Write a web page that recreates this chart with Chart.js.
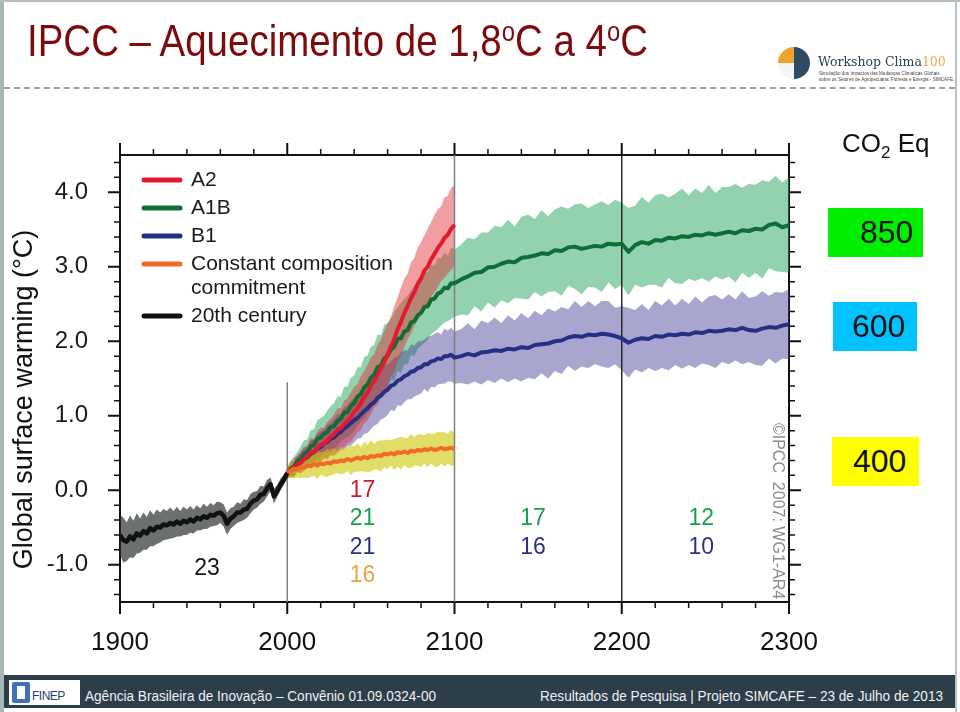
<!DOCTYPE html>
<html lang="pt">
<head>
<meta charset="utf-8">
<title>IPCC – Aquecimento de 1,8oC a 4oC</title>
<script src="https://cdn.jsdelivr.net/npm/chart.js@4.4.1/dist/chart.umd.min.js"></script>
<style>
  html, body { margin:0; padding:0; background:#fff; }
  #slide { position:relative; width:960px; height:712px; overflow:hidden; background:#fff; font-family:"Liberation Sans", Arial, sans-serif; }
  #chart { position:absolute; left:0; top:0; }
  .abs { position:absolute; white-space:nowrap; }
  #frameL { left:0; top:0; width:4px; height:712px; background:#a7b7b7; }
  #frameT { left:0; top:0; width:960px; height:2px; background:#b3bfbf; }
  #frameR { left:955px; top:0; width:2px; height:712px; background:#b8c2c2; }
  #title { left:27px; top:19px; font-size:45px; line-height:44px; color:#7d0b0b; transform-origin:0 50%; }
  #title sup { font-size:0.62em; vertical-align:0.55em; line-height:0; }
  #dash { left:4px; top:87px; width:951px; height:0; border-top:2px dashed #9aa3a3; }
  #footer { left:4px; top:675px; width:951px; height:33px; background:#2d3e4b; }
  .foot { top:688px; font-size:14px; line-height:16px; color:#eef0f2; transform-origin:0 50%; }
  #finepBox { left:9px; top:680px; width:71px; height:25px; background:#fff; }
  #finepIcon { left:12px; top:682px; width:18px; height:21px; background:#3f72b8; border-radius:2px; }
  #finepIcon2 { left:17px; top:686px; width:8px; height:13px; background:#fff; }
  #finepTxt { left:32px; top:690px; font-size:12px; line-height:12px; color:#1f3f7a; letter-spacing:-0.5px; }
  #logoIcon { left:778px; top:47px; width:32px; height:32px; border-radius:50%;
     background:conic-gradient(#2f4b63 0 90deg, #2f4b63 90deg 180deg, #f4f4f4 180deg 270deg, #f2a22c 270deg 360deg); }
  #logoTxt { left:818px; top:55px; font-family:"DejaVu Serif","Liberation Serif",serif; font-size:12.5px; line-height:14px; color:#2c4457; }
  #logoTxt span { color:#f2a94a; }
  .logoSub { left:819px; font-size:4.6px; line-height:5px; color:#444; }
  #co2 { left:842px; top:128px; font-size:26px; line-height:30px; color:#111; }
  #co2 sub { font-size:17px; vertical-align:-6px; line-height:0; }
  .box { font-size:32px; line-height:49px; color:#111; height:49px; }
</style>
</head>
<body>
<div id="slide">
  <canvas id="chart" width="960" height="712"></canvas>
  <div class="abs" id="frameL"></div>
  <div class="abs" id="frameT"></div>
  <div class="abs" id="frameR"></div>
  <div class="abs" id="title">IPCC – Aquecimento de 1,8<sup>o</sup>C a 4<sup>o</sup>C</div>
  <div class="abs" id="dash"></div>
  <div class="abs" id="logoIcon"></div>
  <div class="abs" id="logoTxt">Workshop Clima<span>100</span></div>
  <div class="abs logoSub" style="top:71px">Simulação dos Impactos das Mudanças Climáticas Globais</div>
  <div class="abs logoSub" style="top:77px">sobre os Setores de Agropecuária, Floresta e Energia - SIMCAFE.</div>

  <div class="abs" id="co2">CO<sub>2</sub> Eq</div>
  <div class="abs box" style="left:828px;top:208px;width:95px;background:#00ee00;"><span style="position:absolute;left:32px">850</span></div>
  <div class="abs box" style="left:833px;top:302px;width:84px;background:#00c2ff;"><span style="position:absolute;left:19px">600</span></div>
  <div class="abs box" style="left:832px;top:437px;width:87px;background:#ffff00;"><span style="position:absolute;left:21px">400</span></div>

  <div class="abs" id="footer"></div>
  <div class="abs" id="finepBox"></div>
  <div class="abs" id="finepIcon"></div>
  <div class="abs" id="finepIcon2"></div>
  <div class="abs" id="finepTxt">FINEP</div>
  <div class="abs foot" id="footL" style="left:85px">Agência Brasileira de Inovação – Convênio 01.09.0324-00</div>
  <div class="abs foot" id="footR" style="left:540px">Resultados de Pesquisa | Projeto SIMCAFE – 23 de Julho de 2013</div>
</div>

<script>
// ---------------- DATA ----------------
const range = (a, b, s) => { const r = []; for (let v = a; v <= b + 1e-9; v += s) r.push(v); return r; };

const years20th = range(1900, 2000, 2);      // 20th century
const yearsScen = range(2000, 2100, 2);      // 21st century scenarios
const yearsExt  = range(2104, 2300, 4);      // extension to 2300

const xTickValues = [1900,1920,1940,1960,1980,2000,2020,2040,2060,2080,2100,2120,2140,2160,2180,2200,2220,2240,2260,2280,2300];
const yTickValues = [-1.4,-1.2,-1.0,-0.8,-0.6,-0.4,-0.2,0,0.2,0.4,0.6,0.8,1.0,1.2,1.4,1.6,1.8,2.0,2.2,2.4,2.6,2.8,3.0,3.2,3.4,3.6,3.8,4.0,4.2,4.4];

const seriesNames = ['20th century', 'Constant composition\ncommitment', 'A2', 'A1B', 'B1'];

const temp20th = [-0.60,-0.67,-0.69,-0.62,-0.66,-0.58,-0.61,-0.55,-0.58,-0.51,
                  -0.54,-0.49,-0.50,-0.46,-0.47,-0.44,-0.46,-0.42,-0.45,-0.41,
                  -0.43,-0.39,-0.42,-0.37,-0.39,-0.35,-0.37,-0.33,-0.34,-0.31,
                  -0.30,-0.34,-0.45,-0.38,-0.35,-0.30,-0.30,-0.26,-0.25,-0.18,
                  -0.14,-0.12,-0.06,-0.05,0.03,0.08,-0.08,-0.01,0.08,0.14,0.23];
const spread20th = [0.27,0.30,0.26,0.28,0.25,0.27,0.23,0.25,0.22,0.24,
                    0.21,0.23,0.20,0.21,0.19,0.21,0.18,0.20,0.17,0.19,
                    0.17,0.18,0.16,0.17,0.15,0.17,0.15,0.16,0.14,0.16,
                    0.14,0.15,0.15,0.14,0.13,0.14,0.12,0.14,0.12,0.13,
                    0.12,0.11,0.12,0.10,0.11,0.09,0.10,0.08,0.08,0.07,0.05];

const tempA2 = [0.23,0.28,0.29,0.35,0.37,0.42,0.45,0.51,0.51,0.57,
                0.61,0.63,0.67,0.72,0.75,0.81,0.83,0.89,0.93,0.98,
                1.05,1.10,1.17,1.25,1.31,1.40,1.47,1.55,1.63,1.72,
                1.82,1.93,2.03,2.16,2.26,2.38,2.47,2.58,2.66,2.77,
                2.84,2.95,3.00,3.10,3.17,3.25,3.31,3.39,3.43,3.51,3.56];
const spreadA2 = [0.07,0.10,0.12,0.11,0.15,0.16,0.15,0.19,0.18,0.22,
                  0.23,0.21,0.25,0.24,0.27,0.29,0.27,0.31,0.30,0.33,
                  0.34,0.32,0.36,0.35,0.37,0.38,0.36,0.40,0.39,0.42,
                  0.42,0.40,0.44,0.43,0.46,0.46,0.44,0.48,0.46,0.49,
                  0.49,0.47,0.51,0.50,0.52,0.52,0.50,0.54,0.52,0.55,0.54];

const tempA1B = [0.23,0.29,0.32,0.39,0.42,0.49,0.51,0.59,0.61,0.69,
                 0.71,0.76,0.78,0.85,0.86,0.93,0.96,1.04,1.05,1.13,
                 1.17,1.26,1.29,1.38,1.42,1.51,1.55,1.65,1.67,1.77,
                 1.81,1.89,1.93,2.03,2.04,2.13,2.15,2.25,2.27,2.35,
                 2.38,2.46,2.47,2.56,2.57,2.64,2.66,2.72,2.71,2.78,2.78];
const spreadA1B = [0.07,0.11,0.13,0.12,0.17,0.18,0.17,0.22,0.21,0.25,
                   0.26,0.24,0.29,0.28,0.31,0.33,0.30,0.35,0.34,0.38,
                   0.37,0.39,0.36,0.41,0.39,0.42,0.40,0.44,0.41,0.45,
                   0.43,0.41,0.46,0.43,0.47,0.44,0.46,0.43,0.47,0.45,
                   0.44,0.48,0.45,0.47,0.44,0.48,0.45,0.47,0.44,0.48,0.45];
const tempA1BExt = [2.83,2.87,2.92,2.93,2.99,3.00,3.04,3.07,3.06,3.12,
                    3.13,3.15,3.18,3.17,3.22,3.21,3.26,3.27,3.24,3.26,
                    3.28,3.27,3.31,3.30,3.31,3.20,3.29,3.33,3.31,3.36,
                    3.35,3.39,3.38,3.41,3.40,3.43,3.42,3.45,3.43,3.45,
                    3.47,3.45,3.49,3.48,3.51,3.50,3.56,3.58,3.53,3.56];
const spreadA1BExt = [0.47,0.52,0.45,0.53,0.47,0.55,0.49,0.56,0.48,0.55,
                      0.57,0.49,0.58,0.51,0.55,0.60,0.52,0.57,0.61,0.53,
                      0.56,0.61,0.52,0.60,0.55,0.59,0.53,0.61,0.55,0.60,
                      0.63,0.54,0.60,0.64,0.56,0.62,0.57,0.65,0.56,0.62,
                      0.60,0.66,0.57,0.63,0.59,0.66,0.58,0.64,0.60,0.64];

const tempB1 = [0.23,0.27,0.30,0.35,0.37,0.42,0.44,0.49,0.51,0.56,
                0.58,0.63,0.65,0.69,0.71,0.76,0.78,0.83,0.86,0.90,
                0.94,0.97,1.02,1.06,1.10,1.15,1.18,1.24,1.27,1.32,
                1.35,1.40,1.42,1.47,1.49,1.53,1.55,1.59,1.60,1.64,
                1.65,1.69,1.69,1.73,1.74,1.77,1.76,1.80,1.80,1.82,1.78];
const spreadB1 = [0.07,0.09,0.12,0.11,0.14,0.15,0.14,0.18,0.17,0.20,
                  0.21,0.19,0.23,0.22,0.25,0.26,0.24,0.28,0.27,0.30,
                  0.30,0.28,0.32,0.30,0.33,0.33,0.31,0.35,0.32,0.35,
                  0.34,0.32,0.36,0.33,0.36,0.35,0.33,0.37,0.34,0.36,
                  0.35,0.33,0.37,0.34,0.36,0.35,0.33,0.37,0.34,0.36,0.35];
const tempB1Ext = [1.80,1.83,1.81,1.85,1.86,1.88,1.87,1.90,1.89,1.92,
                   1.91,1.95,1.96,1.97,2.00,2.01,2.05,2.07,2.06,2.09,
                   2.08,2.10,2.09,2.07,2.04,1.98,2.02,2.04,2.03,2.07,
                   2.06,2.09,2.08,2.10,2.09,2.12,2.11,2.14,2.13,2.14,
                   2.16,2.15,2.18,2.15,2.14,2.17,2.19,2.18,2.21,2.23];
const spreadB1Ext = [0.36,0.41,0.35,0.43,0.38,0.44,0.37,0.45,0.39,0.46,
                     0.40,0.46,0.39,0.47,0.40,0.45,0.38,0.47,0.40,0.45,
                     0.39,0.44,0.45,0.38,0.43,0.47,0.40,0.46,0.39,0.47,
                     0.42,0.48,0.40,0.47,0.41,0.48,0.41,0.46,0.49,0.42,
                     0.47,0.41,0.49,0.43,0.46,0.50,0.42,0.48,0.44,0.47];

const tempCommit = [0.23,0.26,0.29,0.28,0.31,0.30,0.33,0.32,0.35,0.33,
                    0.36,0.35,0.37,0.36,0.39,0.38,0.40,0.39,0.42,0.40,
                    0.42,0.44,0.42,0.45,0.43,0.46,0.45,0.47,0.46,0.49,
                    0.48,0.50,0.48,0.51,0.50,0.52,0.50,0.53,0.52,0.54,
                    0.53,0.55,0.54,0.56,0.54,0.55,0.57,0.55,0.56,0.57,0.55];
const spreadCommit = [0.06,0.10,0.13,0.11,0.15,0.13,0.17,0.14,0.16,0.18,
                      0.15,0.17,0.19,0.16,0.18,0.15,0.19,0.17,0.16,0.20,
                      0.17,0.19,0.16,0.20,0.18,0.21,0.17,0.19,0.21,0.18,
                      0.20,0.17,0.21,0.19,0.22,0.18,0.20,0.23,0.19,0.21,
                      0.22,0.19,0.23,0.20,0.22,0.24,0.21,0.23,0.20,0.24,0.22];

// period dividers (year, top of the line in °C)
const dividerYears = [2000, 2100, 2200];
const dividerTops  = [1.45, 4.5, 4.5];

// model counts written on the chart
const modelCounts = [
  { text: '17', year: 2045,   value: 0.0,   series: 'A2' },
  { text: '21', year: 2045,   value: -0.38, series: 'A1B' },
  { text: '21', year: 2045,   value: -0.77, series: 'B1' },
  { text: '16', year: 2045,   value: -1.15, series: 'commit' },
  { text: '23', year: 1952,   value: -1.05, series: '20th' },
  { text: '17', year: 2147,   value: -0.38, series: 'A1B' },
  { text: '16', year: 2147,   value: -0.77, series: 'B1' },
  { text: '12', year: 2247.5, value: -0.38, series: 'A1B' },
  { text: '10', year: 2247.5, value: -0.77, series: 'B1' }
];

// ---------------- STYLE ----------------
const COL = {
  a2: '#e31a2d', a1b: '#0f6e38', b1: '#262f86', commit: '#f26a25', c20: '#111111',
  a2Band: 'rgba(225,40,45,0.45)', a1bBand: 'rgba(40,165,95,0.5)', b1Band: 'rgba(70,65,150,0.47)',
  commitBand: 'rgba(205,200,0,0.6)', c20Band: 'rgba(40,45,42,0.68)'
};
const TXT = { A2: '#cc1b2f', A1B: '#18a04a', B1: '#2b3188', commit: '#f0a23c', '20th': '#111' };
const SANS = '"Liberation Sans", Arial, sans-serif';

// ---------------- BUILD ----------------
const pts = (xs, ys) => xs.map((x, i) => ({ x, y: ys[i] }));
const edge = (xs, m, s, sign) => xs.map((x, i) => ({ x, y: +(m[i] + sign * s[i]).toFixed(3) }));

const xsA1B = yearsScen.concat(yearsExt), mA1B = tempA1B.concat(tempA1BExt), sA1B = spreadA1B.concat(spreadA1BExt);
const xsB1 = yearsScen.concat(yearsExt), mB1 = tempB1.concat(tempB1Ext), sB1 = spreadB1.concat(spreadB1Ext);

const lineDs = (label, data, color, order, w) => ({
  label, data, borderColor: color, backgroundColor: color, borderWidth: w, order,
  pointRadius: 0, fill: false, tension: 0, borderJoinStyle: 'round', xAxisID: 'x', yAxisID: 'y'
});
const bandDs = (data, color, order, fillNext) => ({
  label: '', data, borderColor: 'rgba(0,0,0,0)', borderWidth: 1, backgroundColor: color,
  pointRadius: 0, fill: fillNext ? '+1' : false, tension: 0, order, xAxisID: 'x', yAxisID: 'y'
});

const datasets = [
  lineDs(seriesNames[0], pts(years20th, temp20th), COL.c20, 1, 4.5),
  lineDs(seriesNames[1], pts(yearsScen, tempCommit), COL.commit, 2, 4),
  lineDs(seriesNames[2], pts(yearsScen, tempA2), COL.a2, 3, 4),
  lineDs(seriesNames[3], pts(xsA1B, mA1B), COL.a1b, 4, 4),
  lineDs(seriesNames[4], pts(xsB1, mB1), COL.b1, 5, 4),
];
dividerYears.forEach((yr, i) => {
  datasets.push({ label: '', data: [{ x: yr, y: -1.5 }, { x: yr, y: dividerTops[i] }],
    borderColor: i === 2 ? '#2a2a2a' : '#808080', borderWidth: 1.5, pointRadius: 0, fill: false,
    order: 8, xAxisID: 'x', yAxisID: 'y' });
});
datasets.push(
  bandDs(edge(years20th, temp20th, spread20th, 1), COL.c20Band, 11, true),
  bandDs(edge(years20th, temp20th, spread20th, -1), COL.c20Band, 11, false),
  bandDs(edge(yearsScen, tempCommit, spreadCommit, 1), COL.commitBand, 12, true),
  bandDs(edge(yearsScen, tempCommit, spreadCommit, -1), COL.commitBand, 12, false),
  bandDs(edge(yearsScen, tempA2, spreadA2, 1), COL.a2Band, 13, true),
  bandDs(edge(yearsScen, tempA2, spreadA2, -1), COL.a2Band, 13, false),
  bandDs(edge(xsB1, mB1, sB1, 1), COL.b1Band, 14, true),
  bandDs(edge(xsB1, mB1, sB1, -1), COL.b1Band, 14, false),
  bandDs(edge(xsA1B, mA1B, sA1B, 1), COL.a1bBand, 15, true),
  bandDs(edge(xsA1B, mA1B, sA1B, -1), COL.a1bBand, 15, false)
);

// tick marks (major / minor) on all four sides, from the scales
const tickMarks = {
  id: 'tickMarks',
  afterDraw(chart) {
    const { ctx, chartArea: a, scales } = chart;
    ctx.save();
    ctx.strokeStyle = '#111';
    scales.x.ticks.forEach(t => {
      const major = Math.abs(t.value % 100) < 1e-6;
      const p = scales.x.getPixelForValue(t.value), L = major ? 12 : 6;
      ctx.lineWidth = major ? 2 : 1.5;
      ctx.beginPath();
      ctx.moveTo(p, a.bottom); ctx.lineTo(p, a.bottom + L);
      ctx.moveTo(p, a.top); ctx.lineTo(p, a.top - L);
      ctx.stroke();
    });
    scales.y.ticks.forEach(t => {
      const major = Math.abs(t.value - Math.round(t.value)) < 1e-6;
      const p = scales.y.getPixelForValue(t.value), L = major ? 12 : 6;
      ctx.lineWidth = major ? 2 : 1.5;
      ctx.beginPath();
      ctx.moveTo(a.left, p); ctx.lineTo(a.left - L, p);
      ctx.moveTo(a.right, p); ctx.lineTo(a.right + L, p);
      ctx.stroke();
    });
    ctx.restore();
  }
};

// inset legend, model counts, axis title and copyright
const annotations = {
  id: 'annotations',
  afterDraw(chart) {
    const { ctx, chartArea: a, scales } = chart;
    ctx.save();
    const legendOrder = [2, 3, 4, 1, 0];
    let ly = a.top + 25;
    ctx.font = '21px ' + SANS;
    ctx.textBaseline = 'middle';
    ctx.textAlign = 'left';
    legendOrder.forEach(i => {
      const ds = chart.data.datasets[i];
      ctx.strokeStyle = ds.borderColor; ctx.lineWidth = 5; ctx.lineCap = 'round';
      ctx.beginPath(); ctx.moveTo(a.left + 24, ly); ctx.lineTo(a.left + 60, ly); ctx.stroke();
      ctx.fillStyle = '#1a1a1a';
      const lines = ds.label.split('\n');
      lines.forEach((t, k) => ctx.fillText(t, a.left + 71, ly + k * 24));
      ly += 28 + (lines.length - 1) * 24;
    });
    ctx.font = '23px ' + SANS;
    ctx.textAlign = 'center';
    modelCounts.forEach(m => {
      ctx.fillStyle = TXT[m.series];
      ctx.fillText(m.text, scales.x.getPixelForValue(m.year), scales.y.getPixelForValue(m.value));
    });
    ctx.save();
    ctx.translate(25, (a.top + a.bottom) / 2 + 21);
    ctx.rotate(-Math.PI / 2);
    ctx.font = '27px ' + SANS;
    ctx.fillStyle = '#111';
    ctx.fillText('Global surface warming (°C)', 0, 0);
    ctx.restore();
    ctx.save();
    ctx.translate(scales.x.getPixelForValue(2292.8), scales.y.getPixelForValue(-0.28));
    ctx.rotate(Math.PI / 2);
    ctx.font = '16px ' + SANS;
    ctx.fillStyle = '#8a8a8a';
    ctx.fillText('©IPCC  2007: WG1-AR4', 0, 0);
    ctx.restore();
    ctx.restore();
  }
};

const hidden = { display: false };
new Chart(document.getElementById('chart'), {
  type: 'line',
  data: { datasets },
  options: {
    responsive: false, maintainAspectRatio: false, animation: false, devicePixelRatio: 1,
    events: [],
    layout: { padding: 0 },
    plugins: { legend: hidden, tooltip: { enabled: false }, title: hidden },
    scales: {
      x: {
        type: 'linear', position: 'bottom', min: 1900, max: 2300,
        afterBuildTicks: s => { s.ticks = xTickValues.map(v => ({ value: v })); },
        afterFit: s => { s.height = 110; },
        ticks: { autoSkip: false, maxRotation: 0, padding: 25, color: '#111',
                 font: { family: SANS, size: 26, lineHeight: 1.2 },
                 callback: v => (v % 100 === 0 ? String(v) : '') },
        grid: { drawOnChartArea: false, drawTicks: false },
        border: { display: true, color: '#111', width: 2 }
      },
      x2: {
        type: 'linear', position: 'top', min: 1900, max: 2300,
        afterFit: s => { s.height = 155; },
        ticks: { display: false },
        grid: { drawOnChartArea: false, drawTicks: false },
        border: { display: true, color: '#111', width: 2 }
      },
      y: {
        type: 'linear', position: 'left', min: -1.5, max: 4.5,
        afterBuildTicks: s => { s.ticks = yTickValues.map(v => ({ value: v })); },
        afterFit: s => { s.width = 120; },
        ticks: { autoSkip: false, padding: 32, color: '#1a1a1a',
                 font: { family: SANS, size: 24 },
                 callback: v => (Math.abs(v - Math.round(v)) < 1e-6 ? Number(v).toFixed(1) : '') },
        grid: { drawOnChartArea: false, drawTicks: false },
        border: { display: true, color: '#111', width: 2 }
      },
      y2: {
        type: 'linear', position: 'right', min: -1.5, max: 4.5,
        afterFit: s => { s.width = 171; },
        ticks: { display: false },
        grid: { drawOnChartArea: false, drawTicks: false },
        border: { display: true, color: '#111', width: 2 }
      }
    }
  },
  plugins: [tickMarks, annotations]
});

function fitWidth(id, w) {
  const el = document.getElementById(id);
  const r = el.getBoundingClientRect().width;
  el.style.transform = 'scaleX(' + (w / r).toFixed(4) + ')';
}
fitWidth('title', 621);
fitWidth('footL', 351);
fitWidth('footR', 403);
</script>
</body>
</html>
